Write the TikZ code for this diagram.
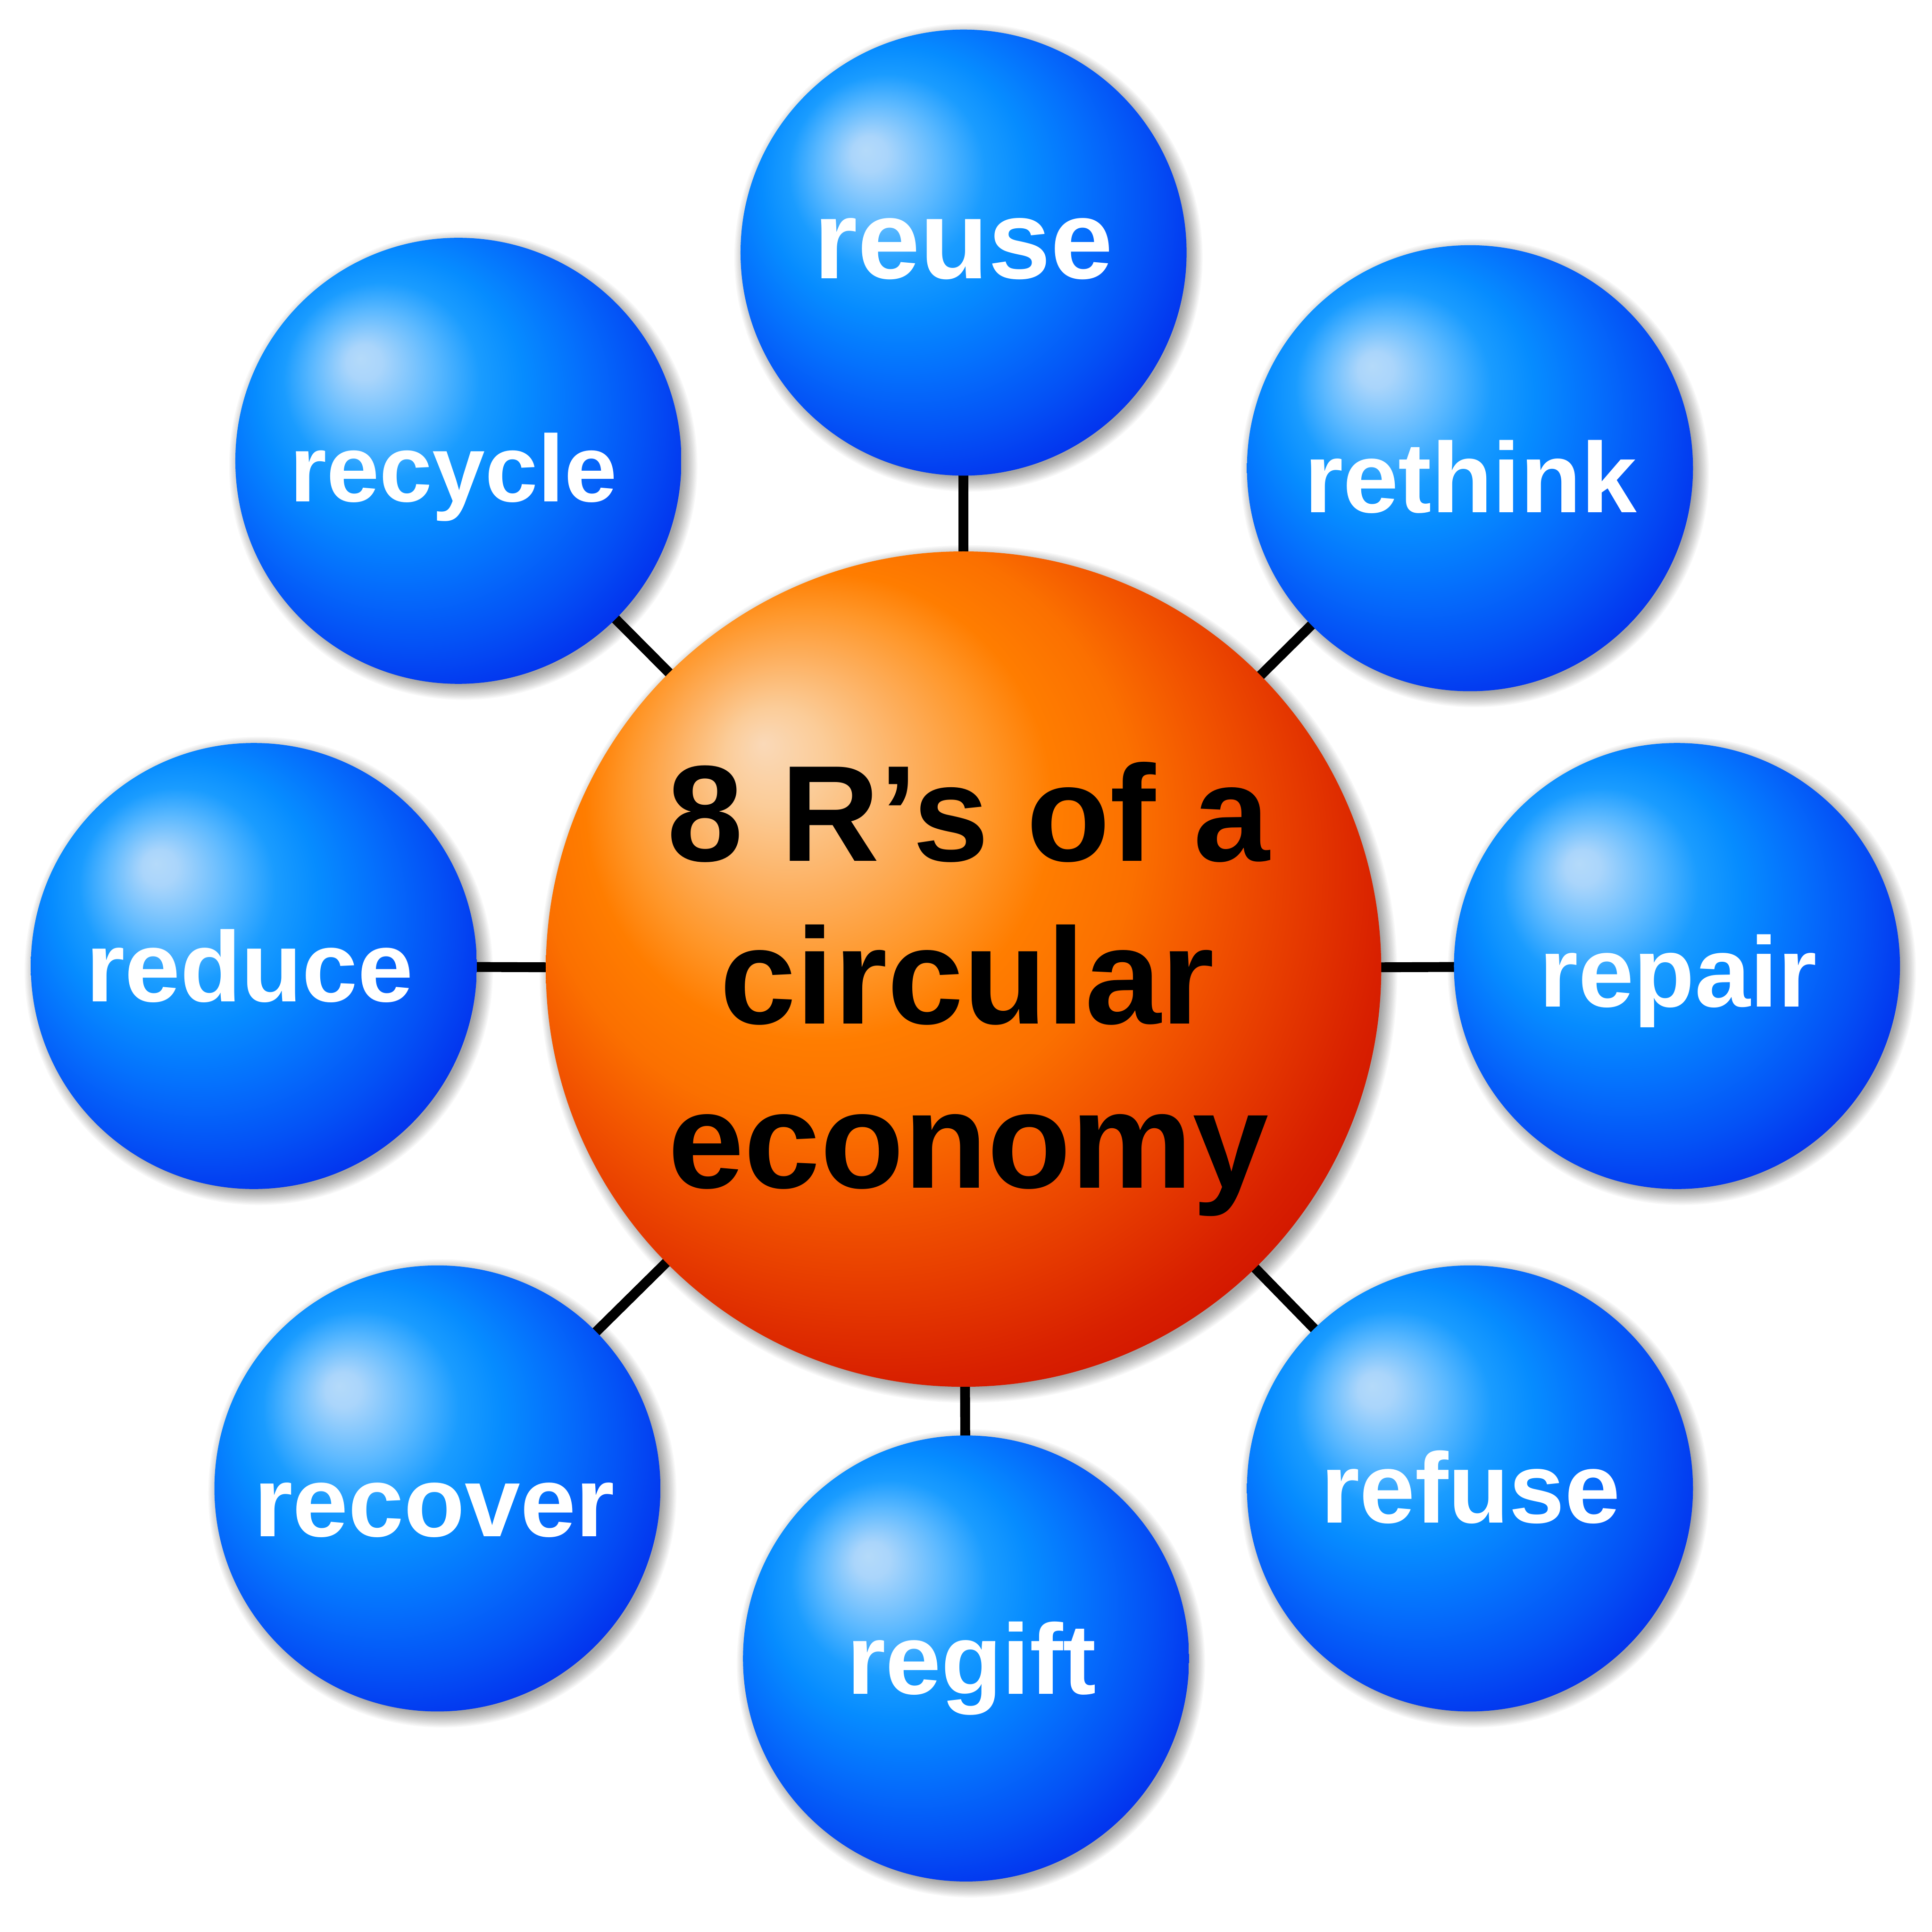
\documentclass[tikz,border=0pt]{standalone}
\usepackage{fontspec}
\setmainfont{Liberation Sans}
\usetikzlibrary{backgrounds}
\definecolor{b0}{HTML}{B4DAFA}
\definecolor{b1}{HTML}{AAD5FB}
\definecolor{b2}{HTML}{5AB8FF}
\definecolor{b3}{HTML}{1A9CFF}
\definecolor{b4}{HTML}{068CFF}
\definecolor{b5}{HTML}{0572FD}
\definecolor{b6}{HTML}{0452F6}
\definecolor{b7}{HTML}{0334EE}
\definecolor{o0}{HTML}{FAD9B8}
\definecolor{o1}{HTML}{FBCC98}
\definecolor{o2}{HTML}{FDB060}
\definecolor{o3}{HTML}{FF9628}
\definecolor{o4}{HTML}{FF7D00}
\definecolor{o5}{HTML}{FB7000}
\definecolor{o6}{HTML}{F25400}
\definecolor{o7}{HTML}{E63A00}
\definecolor{o8}{HTML}{D82000}
\definecolor{o9}{HTML}{D01200}
\pgfdeclareradialshading{blueball}{\pgfpoint{-11bp}{11.5bp}}{color(0bp)=(b0); color(2bp)=(b1); color(7bp)=(b2); color(11bp)=(b3); color(15bp)=(b4); color(20bp)=(b5); color(26bp)=(b6); color(31bp)=(b7); color(50bp)=(b7)}
\pgfdeclareradialshading{orangeball}{\pgfpoint{-12bp}{13.5bp}}{color(0bp)=(o0); color(3bp)=(o1); color(7bp)=(o2); color(11bp)=(o3); color(14bp)=(o4); color(18bp)=(o5); color(22bp)=(o6); color(26bp)=(o7); color(30bp)=(o8); color(33bp)=(o9); color(50bp)=(o9)}
\begin{document}
\begin{tikzpicture}[x=1pt,y=-1pt]
\tikzset{
  ball/.style={circle, inner sep=0pt, minimum size=362pt, shade, shading=blueball},
  hub/.style={circle, inner sep=0pt, minimum size=678pt, shade, shading=orangeball},
  lab/.style={anchor=base, text=white, inner sep=0pt, font=\bfseries\fontsize{81}{81}\selectfont},
  smalllab/.style={anchor=base, text=white, inner sep=0pt, font=\bfseries\fontsize{77}{77}\selectfont},
  biglab/.style={anchor=base, text=white, inner sep=0pt, font=\bfseries\fontsize{91}{91}\selectfont},
  hubtext/.style={anchor=base, text=black, inner sep=0pt, font=\bfseries\fontsize{111}{111}\selectfont},
  link/.style={line width=8pt, black},
  shadowring/.style={fill=black, opacity=0.03}
}
\useasboundingbox (0,0) rectangle (1568,1568);
% circles
\node[hub] (hub) at (782,786.5) {};
\node[ball] (reuse) at (782,205) {};
\node[ball] (recycle) at (372,374) {};
\node[ball] (rethink) at (1193,380) {};
\node[ball] (reduce) at (206,784) {};
\node[ball] (repair) at (1361,784) {};
\node[ball] (recover) at (355,1208) {};
\node[ball] (regift) at (784,1346) {};
\node[ball] (refuse) at (1193,1208) {};
% labels
\node[biglab] (t-reuse) at (782,226) {reuse};
\node[smalllab] (t-recycle) at (368,407) {recycle};
\node[lab] (t-rethink) at (1193.5,416) {rethink};
\node[lab] (t-reduce) at (202.5,813) {reduce};
\node[lab] (t-repair) at (1362,817) {repair};
\node[lab] (t-recover) at (352.5,1247) {recover};
\node[lab] (t-regift) at (788.5,1375) {regift};
\node[lab] (t-refuse) at (1193.5,1236) {refuse};
\node[hubtext] (h1) at (786,699) {8 R’s of a};
\node[hubtext] (h2) at (785,831) {circular};
\node[hubtext] (h3) at (786,964) {economy};
\begin{scope}[on background layer]
  \fill[white] (0,0) rectangle (1568,1568);
  \foreach \cx/\cy/\r in {782/786.5/339, 782/205/181, 372/374/181, 1193/380/181, 206/784/181, 1361/784/181, 355/1208/181, 784/1346/181, 1193/1208/181}{
    \foreach \k in {0,...,12}{
      \fill[shadowring] (\cx+4,\cy+4) circle[radius=\r-3+\k];
    }
  }
  \foreach \n in {reuse,recycle,rethink,reduce,repair,recover,regift,refuse}{
    \draw[link] (hub.center) -- (\n.center);
  }
\end{scope}
\end{tikzpicture}
\end{document}
